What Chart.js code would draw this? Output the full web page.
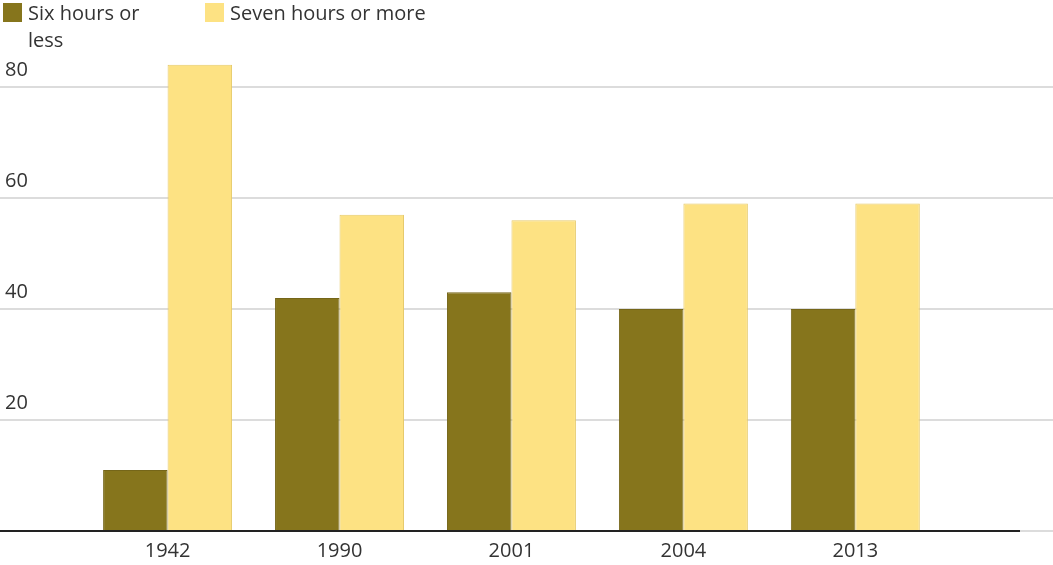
<!DOCTYPE html>
<html lang="en">
<head>
    <meta charset="UTF-8">
    <title>Hours of sleep</title>
    <style>
        body {
            margin: 0;
            background: #fff;
            font-family: "Open Sans", Lato, sans-serif;
            color: #333;
        }

        .wrap {
            position: relative;
            width: 1053px;
            height: 565px;
        }

        .legend {
            position: absolute;
            top: 0;
            left: 0;
            font-size: 20px;
            line-height: 27px;
        }

        .legend-item {
            position: absolute;
            top: -1px;
            padding-left: 25px;
        }

        .legend-item .swatch {
            position: absolute;
            left: 0;
            top: 4px;
            width: 19px;
            height: 19px;
        }

        canvas {
            position: absolute;
            top: 0;
            left: 0;
        }
    </style>
    <script src="https://cdn.jsdelivr.net/npm/chart.js"></script>
</head>
<body>
    <div class="wrap">
        <canvas id="sleepChart" width="1053" height="565"></canvas>
        <div class="legend">
            <div class="legend-item" style="left: 3px; width: 130px;">
                <span class="swatch" style="background: #86751c;"></span>Six hours or less
            </div>
            <div class="legend-item" style="left: 205px; width: 260px;">
                <span class="swatch" style="background: #fde283;"></span>Seven hours or more
            </div>
        </div>
    </div>
    <script>
        const years = ['1942', '1990', '2001', '2004', '2013'];
        const sixOrLess = [11, 42, 43, 40, 40];
        const sevenOrMore = [84, 57, 56, 59, 59];
        const yTicks = [20, 40, 60, 80];

        const FONT = '"Open Sans", Lato, sans-serif';

        // gridlines run the full width, labels sit above each line
        const gridPlugin = {
            id: 'gridPlugin',
            beforeDatasetsDraw(chart) {
                const ctx = chart.ctx;
                const y = chart.scales.y;
                ctx.save();
                ctx.strokeStyle = '#dcdcdc';
                ctx.lineWidth = 2;
                ctx.fillStyle = '#333';
                ctx.font = '20px ' + FONT;
                ctx.textAlign = 'left';
                ctx.textBaseline = 'alphabetic';
                yTicks.forEach(function (v) {
                    const py = Math.round(y.getPixelForValue(v));
                    ctx.beginPath();
                    ctx.moveTo(0, py);
                    ctx.lineTo(chart.width, py);
                    ctx.stroke();
                    ctx.fillText(String(v), 5, py - 11);
                });
                // light tail of the zero line past the axis end
                const p0 = Math.round(y.getPixelForValue(0));
                ctx.beginPath();
                ctx.moveTo(1020, p0);
                ctx.lineTo(chart.width, p0);
                ctx.stroke();
                ctx.restore();
            },
            afterDatasetsDraw(chart) {
                const ctx = chart.ctx;
                const p0 = Math.round(chart.scales.y.getPixelForValue(0));
                ctx.save();
                ctx.strokeStyle = '#222';
                ctx.lineWidth = 2;
                ctx.beginPath();
                ctx.moveTo(0, p0);
                ctx.lineTo(1020, p0);
                ctx.stroke();
                ctx.restore();
            }
        };

        const ctx = document.getElementById('sleepChart').getContext('2d');
        new Chart(ctx, {
            type: 'bar',
            data: {
                labels: years,
                datasets: [{
                    label: 'Six hours or less',
                    data: sixOrLess,
                    backgroundColor: '#86751c',
                    borderColor: '#756619',
                    borderWidth: 1
                }, {
                    label: 'Seven hours or more',
                    data: sevenOrMore,
                    backgroundColor: '#fde283',
                    borderColor: '#e6ca6a',
                    borderWidth: 1
                }]
            },
            options: {
                responsive: false,
                animation: false,
                layout: {
                    padding: { left: 81.6, right: 111.7, top: 31.5, bottom: 0 }
                },
                datasets: {
                    bar: { categoryPercentage: 0.75, barPercentage: 1 }
                },
                plugins: {
                    legend: { display: false },
                    tooltip: { enabled: false }
                },
                scales: {
                    x: {
                        grid: { display: false, drawTicks: false, tickLength: 0 },
                        border: { display: false },
                        ticks: {
                            color: '#333',
                            padding: 8,
                            font: { family: FONT, size: 20 }
                        },
                        afterFit(scale) {
                            scale.height = 34;
                        }
                    },
                    y: {
                        display: false,
                        min: 0,
                        max: 90
                    }
                }
            },
            plugins: [gridPlugin]
        });
    </script>
</body>
</html>
